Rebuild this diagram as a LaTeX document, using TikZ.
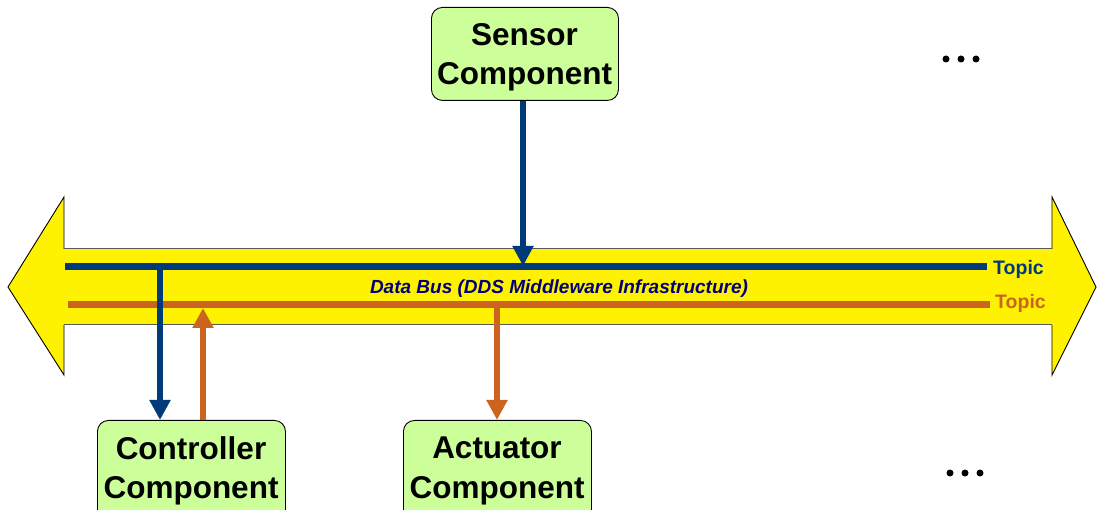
\documentclass[tikz,border=0pt]{standalone}
\usepackage{fontspec}
\setmainfont{Liberation Sans}
\usetikzlibrary{arrows.meta}
\definecolor{busblue}{RGB}{0,58,120}
\definecolor{busorange}{RGB}{204,100,32}
\definecolor{boxgreen}{RGB}{204,255,153}
\definecolor{navytext}{RGB}{0,0,120}
\tikzset{
  comp/.style={draw=black, line width=0.9pt, fill=boxgreen, rounded corners=11pt, inner sep=0pt},
  comptext/.style={anchor=north, align=center, font=\bfseries\fontsize{31.5}{39.5}\selectfont, inner sep=0pt},
  blueline/.style={draw=busblue, line width=7pt},
  orangeline/.style={draw=busorange, line width=7pt},
  bluearrow/.style={draw=busblue, line width=6pt, -{Triangle[width=20pt,length=20pt]}},
  orangearrow/.style={draw=busorange, line width=6pt, -{Triangle[width=20pt,length=20pt]}},
  topic/.style={font=\bfseries\fontsize{19.5}{22}\selectfont, anchor=west, inner sep=0pt},
  dot/.style={circle, fill=black, inner sep=0pt, minimum size=7pt}
}
\begin{document}
\begin{tikzpicture}[x=1pt,y=-1pt]
\useasboundingbox (0,0) rectangle (1098,510);
\clip (0,0) rectangle (1098,510);
% big double arrow
\fill[yellow] (8,287) -- (64,197) -- (64,249) -- (1052,249) -- (1052,197) -- (1096,287)
  -- (1052,375) -- (1052,325) -- (64,325) -- (64,375) -- cycle;
\draw[black, line width=0.9pt] (64,249) -- (64,197) -- (8,287) -- (64,375) -- (64,325);
\draw[black, line width=0.9pt] (1052,249) -- (1052,197) -- (1096,287) -- (1052,375) -- (1052,325);
\draw[black!65, line width=1pt] (64,249) -- (1052,249);
\draw[black!65, line width=1pt] (64,325) -- (1052,325);
% topics
\coordinate (b0) at (65,267);
\coordinate (b1) at (987,267);
\coordinate (o0) at (68,305);
\coordinate (o1) at (990,305);
\draw[blueline] (b0) -- (b1);
\draw[orangeline] (o0) -- (o1);
\node[topic, text=busblue] (t1) at (993,269) {Topic};
\node[topic, text=busorange] (t2) at (995,303) {Topic};
\node[font=\bfseries\itshape\fontsize{19}{22}\selectfont, text=navytext] (bus) at (559,289) {Data Bus (DDS Middleware Infrastructure)};
% components
\node[comp, minimum width=187pt, minimum height=93pt, anchor=north west] (sensor) at (431,7) {};
\node[comptext] (sensort) at (524.5,23) {Sensor\\Component};
\node[comp, minimum width=188pt, minimum height=100pt, anchor=north west] (ctrl) at (97,420) {};
\node[comptext] (ctrlt) at (191,436) {Controller\\Component};
\node[comp, minimum width=188pt, minimum height=100pt, anchor=north west] (act) at (403,420) {};
\node[comptext] (actt) at (497,437) {Actuator\\Component};
% connectors
\coordinate (sb) at (523,266);
\draw[bluearrow] (sensor.south -| sb) -- (sb);
\coordinate (cb) at (160,267);
\draw[bluearrow] (cb) -- (ctrl.north -| cb);
\coordinate (co) at (203,308);
\draw[orangearrow] (ctrl.north -| co) -- (co);
\coordinate (ao) at (497,305);
\draw[orangearrow] (ao) -- (act.north -| ao);
% dots
\node[dot] (d1) at (946,59) {};
\node[dot] (d2) at (961,59) {};
\node[dot] (d3) at (976,59) {};
\node[dot] (d4) at (950,473) {};
\node[dot] (d5) at (965,473) {};
\node[dot] (d6) at (980,473) {};
\end{tikzpicture}
\end{document}
